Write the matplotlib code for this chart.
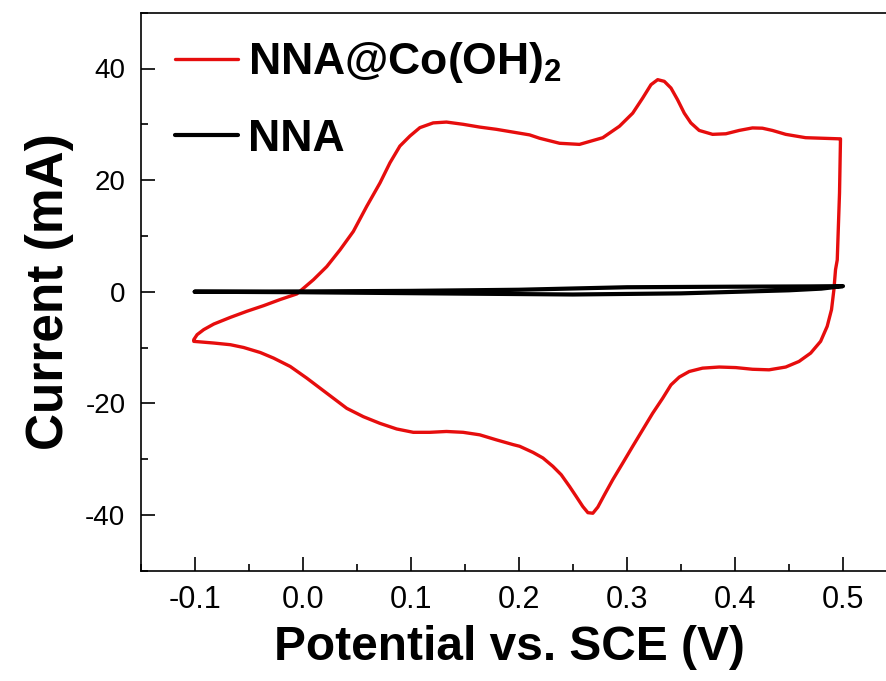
import matplotlib
matplotlib.use("Agg")
import matplotlib.pyplot as plt
from matplotlib.ticker import MultipleLocator

plt.rcParams['font.family'] = ['Liberation Sans', 'DejaVu Sans']
plt.rcParams['mathtext.fontset'] = 'custom'
plt.rcParams['mathtext.rm'] = 'Liberation Sans'
plt.rcParams['mathtext.bf'] = 'Liberation Sans:bold'
plt.rcParams['axes.unicode_minus'] = False

# NNA@Co(OH)2 CV loop (potential V, current mA)
co_x = [-0.1009, -0.0978, -0.0917, -0.0824, -0.0670, -0.0516, -0.0362, -0.0209, -0.0055, 0.0099,
        0.0222, 0.0345, 0.0468, 0.0592, 0.0715, 0.0807, 0.0899, 0.0992, 0.1084, 0.1207,
        0.1330, 0.1484, 0.1638, 0.1792, 0.1946, 0.2100, 0.2192, 0.2377, 0.2561, 0.2777,
        0.2931, 0.3054, 0.3146, 0.3223, 0.3285, 0.3346, 0.3408, 0.3469, 0.3531, 0.3592,
        0.3669, 0.3793, 0.3916, 0.4039, 0.4162, 0.4254, 0.4347, 0.4470, 0.4654, 0.4962,
        0.4977, 0.4968, 0.4947, 0.4931, 0.4916, 0.4894, 0.4854, 0.4793, 0.4701, 0.4593,
        0.4470, 0.4316, 0.4162, 0.4008, 0.3854, 0.3700, 0.3577, 0.3485, 0.3408, 0.3331,
        0.3238, 0.3146, 0.3054, 0.2962, 0.2869, 0.2792, 0.2731, 0.2685, 0.2639, 0.2592,
        0.2531, 0.2469, 0.2392, 0.2315, 0.2223, 0.2131, 0.2007, 0.1946, 0.1792, 0.1638,
        0.1484, 0.1330, 0.1176, 0.1023, 0.0869, 0.0715, 0.0561, 0.0407, 0.0284, 0.0161,
        0.0038, -0.0116, -0.0270, -0.0393, -0.0547, -0.0670, -0.0824, -0.0947, -0.1009]
co_y = [-8.6, -7.7, -6.8, -5.8, -4.6, -3.5, -2.5, -1.4, -0.4, 2.15,
        4.5, 7.5, 10.8, 15.3, 19.5, 23.1, 26.1, 27.9, 29.4, 30.25,
        30.4, 30.0, 29.5, 29.1, 28.6, 28.1, 27.5, 26.6, 26.4, 27.6,
        29.65, 32.0, 34.7, 37.1, 38.0, 37.7, 36.5, 34.4, 32.0, 30.25,
        28.9, 28.2, 28.3, 28.9, 29.35, 29.3, 28.9, 28.2, 27.6, 27.4,
        27.4, 17.7, 5.7, 3.95, 0.36, -3.2, -6.2, -8.9, -11.0, -12.5,
        -13.5, -14.0, -13.9, -13.6, -13.5, -13.7, -14.3, -15.3, -16.7, -19.1,
        -21.8, -24.75, -27.7, -30.7, -33.7, -36.4, -38.6, -39.7, -39.6, -38.5,
        -36.7, -34.9, -32.8, -31.3, -29.8, -28.8, -27.7, -27.4, -26.55, -25.65,
        -25.2, -25.05, -25.2, -25.2, -24.6, -23.6, -22.4, -20.9, -19.1, -17.3,
        -15.5, -13.4, -11.9, -10.9, -10.0, -9.5, -9.2, -9.0, -8.9]

# NNA CV loop
nna_x = [-0.10, 0.00, 0.10, 0.20, 0.30, 0.40, 0.47, 0.50, 0.48, 0.45, 0.35, 0.25, 0.15, 0.00, -0.10]
nna_y = [0.0, 0.05, 0.15, 0.35, 0.8, 0.9, 0.95, 1.0, 0.55, 0.25, -0.3, -0.5, -0.35, -0.1, 0.0]

x_ticks = [-0.1, 0.0, 0.1, 0.2, 0.3, 0.4, 0.5]
y_ticks = [-40, -20, 0, 20, 40]

fig = plt.figure(figsize=(8.86, 6.81), dpi=100)
ax = fig.add_axes([140.7/886, (681-570.7)/681, (897-140.7)/886, (570.7-12.7)/681])

ax.plot(co_x, co_y, color='#e60d0d', lw=2.4, label=r'NNA@Co(OH)$_\mathbf{2}$', zorder=2,
        solid_joinstyle='round', solid_capstyle='round')
ax.plot(nna_x, nna_y, color='black', lw=3.0, label='NNA', zorder=3,
        solid_joinstyle='round', solid_capstyle='round')

ax.set_xlim(-0.15, 0.55)
ax.set_ylim(-50, 50)
ax.set_xticks(x_ticks)
ax.set_xticklabels(['%.1f' % v for v in x_ticks])
ax.set_yticks(y_ticks)
ax.set_yticklabels(['%d' % v for v in y_ticks])
ax.xaxis.set_minor_locator(MultipleLocator(0.05))
ax.yaxis.set_minor_locator(MultipleLocator(10))
ax.tick_params(which='both', direction='in', width=1.2, top=False, right=False)
ax.tick_params(which='major', length=10)
ax.tick_params(which='minor', length=5)
ax.tick_params(axis='x', labelsize=22, pad=10)
ax.tick_params(axis='y', labelsize=20, pad=11)
for s in ax.spines.values():
    s.set_linewidth(1.2)

ax.set_xlabel('Potential vs. SCE (V)', fontsize=34.5, fontweight='bold')
ax.xaxis.set_label_coords(0.488, -0.098)
ax.xaxis.label.set_va('top')
ax.set_ylabel('Current (mA)', fontsize=37, fontweight='bold', labelpad=8)

leg = ax.legend(loc='upper left', bbox_to_anchor=(0.0102, 0.998), frameon=False,
                prop={'size': 32, 'weight': 'bold'}, handlelength=1.42,
                handletextpad=0.22, labelspacing=0.75, borderaxespad=0.2)

fig.savefig('out.png', dpi=100)
